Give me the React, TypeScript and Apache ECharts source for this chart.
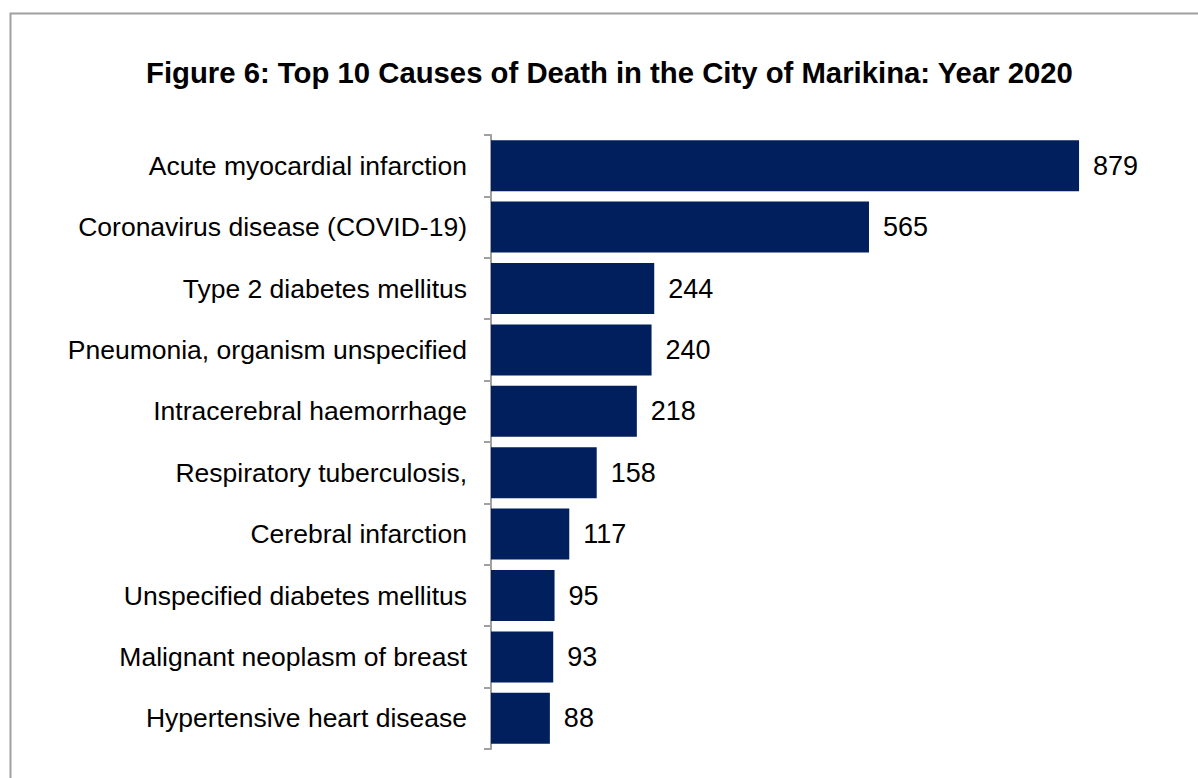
import React, { useEffect, useRef } from "react";
import * as echarts from "echarts";

const categories = [
  "Acute myocardial infarction",
  "Coronavirus disease (COVID-19)",
  "Type 2 diabetes mellitus",
  "Pneumonia, organism unspecified",
  "Intracerebral haemorrhage",
  "Respiratory tuberculosis,",
  "Cerebral infarction",
  "Unspecified diabetes mellitus",
  "Malignant neoplasm of breast",
  "Hypertensive heart disease",
];
const values = [879, 565, 244, 240, 218, 158, 117, 95, 93, 88];
const titleText = "Figure 6: Top 10 Causes of Death in the City of Marikina: Year 2020";

export default function App() {
  const ref = useRef<HTMLDivElement>(null);
  useEffect(() => {
    if (!ref.current) return;
    const chart = echarts.init(ref.current, undefined, { renderer: "svg" });
    chart.setOption({
      animation: false,
      backgroundColor: "#ffffff",
      title: {
        text: titleText,
        left: 141,
        top: 53,
        textStyle: {
          fontFamily: "Liberation Sans, Arial, sans-serif",
          fontWeight: "bold",
          fontSize: 29.3,
          color: "#000000",
        },
      },
      graphic: [
        {
          type: "rect",
          shape: { x: 10.5, y: 13.5, width: 1300, height: 900 },
          style: { fill: "none", stroke: "#a0a0a0", lineWidth: 2 },
          silent: true,
          z: -1,
        },
      ],
      grid: { left: 491, top: 135, width: 669, height: 614 },
      xAxis: {
        type: "value",
        min: 0,
        max: 1000,
        show: false,
      },
      yAxis: {
        type: "category",
        data: categories,
        inverse: true,
        axisLine: { show: true, lineStyle: { color: "#a0a0a0", width: 2 } },
        axisTick: { show: true, length: 7, lineStyle: { color: "#a0a0a0", width: 2 } },
        axisLabel: {
          fontFamily: "Liberation Sans, Arial, sans-serif",
          fontSize: 26.5,
          color: "#000000",
          margin: 24,
        },
      },
      series: [
        {
          type: "bar",
          data: values,
          barCategoryGap: "17%",
          itemStyle: { color: "#001f5c" },
          label: {
            show: true,
            position: "right",
            distance: 14,
            fontFamily: "Liberation Sans, Arial, sans-serif",
            fontSize: 27,
            color: "#000000",
          },
        },
      ],
    });
    return () => chart.dispose();
  }, []);
  return (
    <div
      ref={ref}
      style={{ position: "fixed", left: 0, top: 0, width: 1198, height: 778 }}
    />
  );
}
